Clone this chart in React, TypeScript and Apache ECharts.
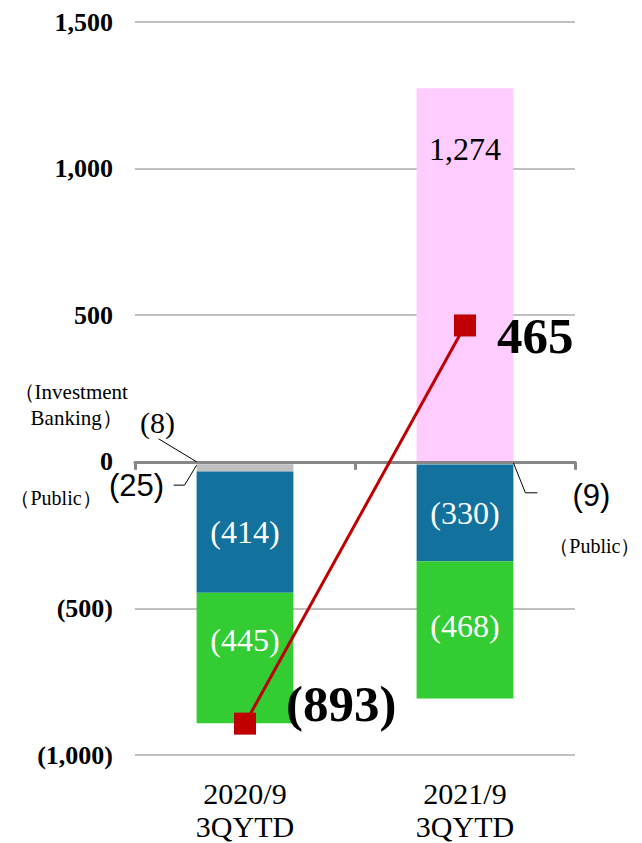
import React, { useEffect, useRef } from "react";
import * as echarts from "echarts";

// ---- data ----
const categories = ["2020/9\n3QYTD", "2021/9\n3QYTD"];
const investmentBanking: (number | null)[] = [-8, null];
const publicSeg: (number | null)[] = [-25, -9];
const blueSeg: (number | null)[] = [-414, -330];
const greenSeg: (number | null)[] = [-445, -468];
const pinkSeg: (number | null)[] = [null, 1274];
const totals = [-893, 465];
const yTicks = { min: -1000, max: 1500, interval: 500 };

const SERIF = '"Liberation Serif", "Times New Roman", serif';
const SANS = '"Liberation Sans", Arial, sans-serif';

const fmt = (v: number) => {
  const s = Math.abs(v).toLocaleString("en-US");
  return v < 0 ? `(${s})` : s;
};

export default function App() {
  const ref = useRef<HTMLDivElement>(null);
  useEffect(() => {
    document.body.style.margin = "0";
    if (!ref.current) return;
    const chart = echarts.init(ref.current, undefined, { renderer: "svg" });
    const barWidthRatio = 0.44;
    const insideLabel = {
      show: true,
      position: "inside",
      color: "#fff",
      fontFamily: SERIF,
      fontSize: 32,
      formatter: (p: any) => fmt(p.value),
    };
    chart.setOption({
      animation: false,
      grid: { left: 135, right: 67, top: 22, bottom: 85 },
      xAxis: [
        {
          type: "category",
          data: categories,
          z: 3,
          axisLine: { onZero: true, lineStyle: { color: "#878787", width: 3 } },
          axisTick: { show: true, length: 8, lineStyle: { color: "#878787", width: 3 } },
          axisLabel: { show: false },
          splitLine: { show: false },
        },
        {
          type: "category",
          data: categories,
          position: "bottom",
          axisLine: { show: false, onZero: false },
          axisTick: { show: false },
          axisLabel: {
            color: "#000",
            fontFamily: SERIF,
            fontSize: 30,
            lineHeight: 33,
            margin: 22,
          },
        },
      ],
      yAxis: {
        type: "value",
        min: yTicks.min,
        max: yTicks.max,
        interval: yTicks.interval,
        axisLine: { show: false },
        axisTick: { show: false },
        splitLine: { lineStyle: { color: "#c0c0c0", width: 2 } },
        axisLabel: {
          color: "#000",
          fontFamily: SERIF,
          fontWeight: "bold",
          fontSize: 26,
          margin: 22,
          formatter: (v: number) => fmt(v),
        },
      },
      series: [
        {
          name: "Investment Banking",
          type: "bar",
          stack: "t",
          barWidth: `${barWidthRatio * 100}%`,
          data: investmentBanking,
          itemStyle: { color: "#bfbfbf" },
        },
        {
          name: "Public",
          type: "bar",
          stack: "t",
          barWidth: `${barWidthRatio * 100}%`,
          data: publicSeg,
          itemStyle: { color: "#c0c0c0" },
        },
        {
          name: "Segment B",
          type: "bar",
          stack: "t",
          barWidth: `${barWidthRatio * 100}%`,
          data: blueSeg,
          itemStyle: { color: "#12719d" },
          label: insideLabel,
        },
        {
          name: "Segment C",
          type: "bar",
          stack: "t",
          barWidth: `${barWidthRatio * 100}%`,
          data: greenSeg.map((v, i) =>
            i === 0 ? { value: v, label: { offset: [0, -18] } } : { value: v, label: { offset: [0, -4] } }
          ),
          itemStyle: { color: "#33cc33" },
          label: insideLabel,
        },
        {
          name: "Segment D",
          type: "bar",
          stack: "t",
          barWidth: `${barWidthRatio * 100}%`,
          data: pinkSeg,
          itemStyle: { color: "#ffccff" },
          label: {
            show: true,
            position: "insideTop",
            distance: 45,
            color: "#000",
            fontFamily: SERIF,
            fontSize: 32,
            formatter: (p: any) => fmt(p.value),
          },
        },
        {
          name: "Total",
          type: "line",
          data: totals.map((v, i) => ({
            value: v,
            label:
              i === 0
                ? { distance: 30, offset: [0, -20] }
                : { distance: 21, offset: [0, 11] },
          })),
          z: 5,
          symbol: "rect",
          symbolSize: 22,
          itemStyle: { color: "#c00000" },
          lineStyle: { color: "#c00000", width: 3 },
          label: {
            show: true,
            position: "right",
            color: "#000",
            fontFamily: SERIF,
            fontWeight: "bold",
            fontSize: 51,
            formatter: (p: any) => fmt(p.value),
          },
        },
      ],
    });

    // annotations anchored through the chart's own scales
    const p00 = chart.convertToPixel({ seriesIndex: 0 }, [0, 0]) as number[];
    const p10 = chart.convertToPixel({ seriesIndex: 0 }, [1, 0]) as number[];
    const pPub0 = chart.convertToPixel({ seriesIndex: 0 }, [0, investmentBanking[0] as number]) as number[];
    const catW = p10[0] - p00[0];
    const half = (catW * barWidthRatio) / 2;
    const L = p00[0] - half;
    const R = p10[0] + half;
    const y0 = p00[1];
    const yp = pPub0[1];

    const txt = (text: string, x: number, y: number, font: string, align: string) => ({
      type: "text",
      x,
      y,
      z: 100,
      style: {
        text,
        font,
        fill: "#000",
        align,
        verticalAlign: "middle",
        textAlign: align,
        textVerticalAlign: "middle",
      },
    });
    const stroke = { stroke: "#000", lineWidth: 1, fill: null };

    chart.setOption({
      graphic: [
        txt("（Investment", L - 183, y0 - 70, `21px ${SERIF}`, "left"),
        txt("Banking）", L - 166, y0 - 44, `21px ${SERIF}`, "left"),
        txt("(8)", L - 39, y0 - 39, `30px ${SERIF}`, "center"),
        {
          type: "line",
          z: 100,
          shape: { x1: L - 38, y1: y0 - 23, x2: L, y2: y0 },
          style: stroke,
        },
        txt("(25)", L - 60, y0 + 24, `31px ${SANS}`, "center"),
        txt("（Public）", L - 95, y0 + 36, `20px ${SERIF}`, "right"),
        {
          type: "polyline",
          z: 100,
          shape: { points: [[L - 23, yp + 21], [L - 12, yp + 21], [L, yp + 1]] },
          style: stroke,
        },
        txt("(9)", R + 78, y0 + 34, `31px ${SANS}`, "center"),
        txt("（Public）", R + 127, y0 + 84, `20px ${SERIF}`, "right"),
        {
          type: "polyline",
          z: 100,
          shape: { points: [[R, y0 + 1], [R + 12, y0 + 31], [R + 24, y0 + 31]] },
          style: stroke,
        },
      ],
    });

    return () => chart.dispose();
  }, []);
  return <div ref={ref} style={{ width: 642, height: 843 }} />;
}
